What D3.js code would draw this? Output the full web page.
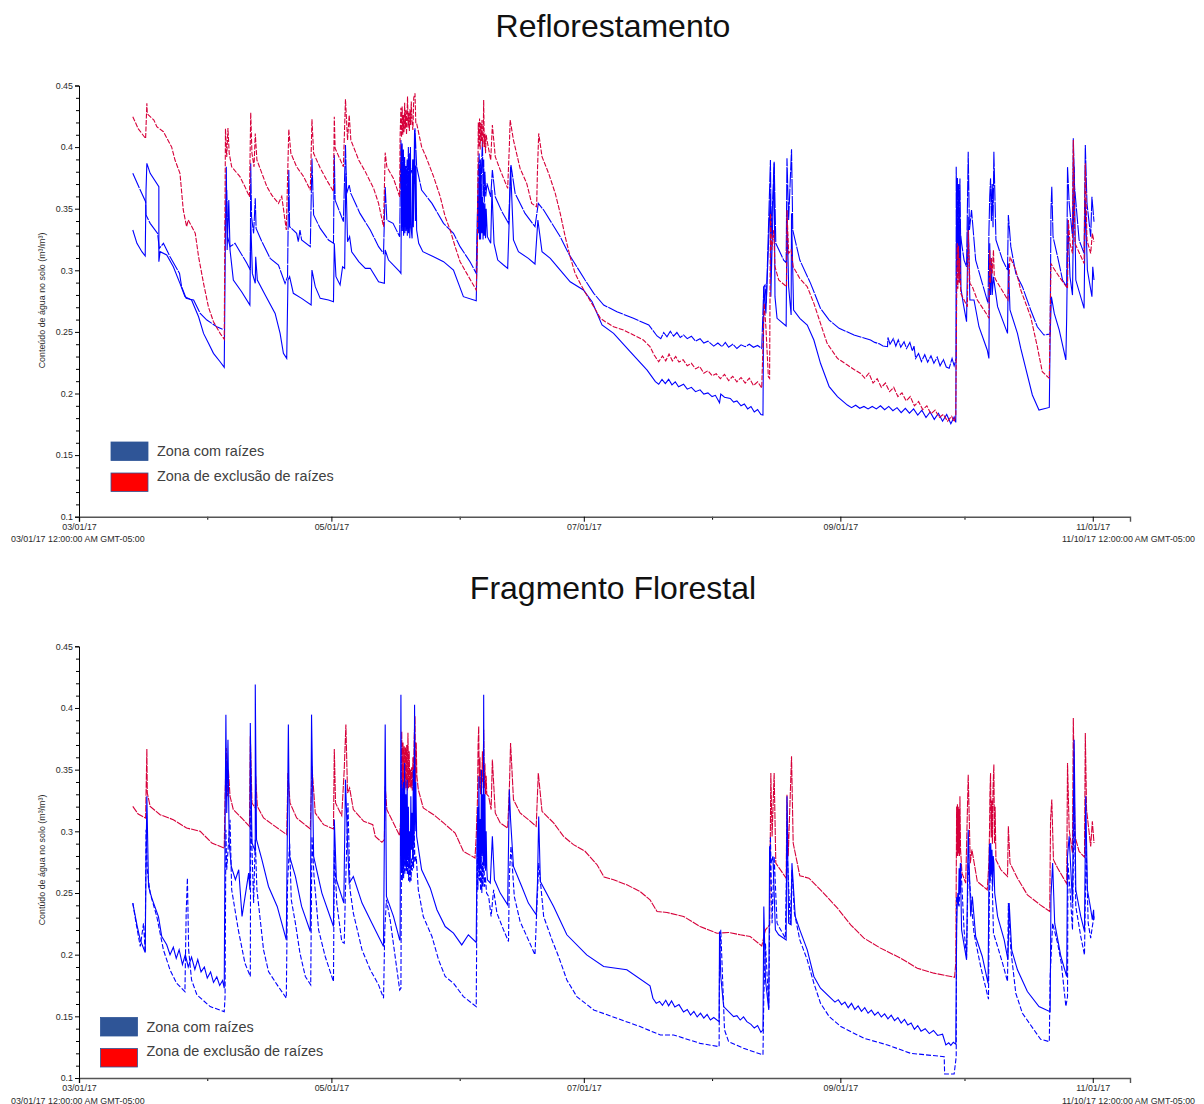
<!DOCTYPE html>
<html lang="pt"><head><meta charset="utf-8">
<style>html,body{margin:0;padding:0;background:#fff}svg{display:block}text{font-family:"Liberation Sans",Arial,sans-serif}</style>
<script src="https://cdn.jsdelivr.net/npm/d3@7/dist/d3.min.js"></script></head><body><div id="c"></div>
<script>
const chartTitles=["Reflorestamento","Fragmento Florestal"];
const legendLabels=["Zona com raízes","Zona de exclusão de raízes"];
const yTicks=[0.1,0.15,0.2,0.25,0.3,0.35,0.4,0.45];
const yMinorTicks=[0.11,0.12,0.13,0.14,0.16,0.17,0.18,0.19,0.21,0.22,0.23,0.24,0.26,0.27,0.28,0.29,0.31,0.32,0.33,0.34,0.36,0.37,0.38,0.39,0.41,0.42,0.43,0.44];
const xLabelDates=["2017-03-01","2017-05-01","2017-07-01","2017-09-01","2017-11-01"];
const xMinorDates=["2017-04-01","2017-06-01","2017-08-01","2017-10-01"];
const rangeStartLabel="03/01/17 12:00:00 AM GMT-05:00";
const rangeEndLabel="11/10/17 12:00:00 AM GMT-05:00";
const yTitles=["Conteúdo de água no solo (m³/m³)","Contúdo de água no solo (m³/m³)"];

// [days since 1 March 2017, volumetric water content]
const reflorRed=[[13,.4247],[14.3,.415],[16.1,.407],[16.4,.4355],[16.5,.427],[18.1,.422],[18.8,.4166],[20.4,.4125],[22.4,.4],[23.2,.3895],[24.4,.3787],[25.2,.349],[26,.3354],[26.4,.3408],[28.1,.33],[28.9,.311],[30.1,.2894],[31.3,.27],[32.5,.2583],[34.1,.2488],[35.1,.244],[35.4,.415],[35.7,.392],[36,.4155],[36.3,.395],[36.9,.384],[38.9,.376],[40.1,.3679],[41.2,.3597],[41.5,.428],[41.8,.395],[42.3,.384],[42.6,.411],[43,.3895],[44.2,.3787],[45.4,.368],[46.6,.361],[48.2,.3543],[49,.36],[50.1,.3327],[50.7,.4144],[51.2,.395],[52.6,.384],[54.3,.376],[55.9,.365],[56.3,.4225],[56.7,.395],[58.3,.383],[59.9,.373],[61.5,.364],[61.7,.4247],[61.9,.399],[63.9,.384],[64.4,.4388],[64.9,.4057],[65.3,.426],[65.7,.4057],[67.6,.3895],[69.2,.38],[71.2,.3665],[72.4,.3543],[73.6,.3354],[74,.3955],[74.4,.384],[76,.3746],[77.5,.3597],[77.6,.4084],[77.8,.432],[77.95,.408],[78.1,.433],[78.25,.41],[78.4,.426],[78.55,.412],[78.7,.436],[78.85,.415],[79,.43],[79.15,.41],[79.4,.441],[79.55,.416],[79.7,.428],[79.85,.413],[80,.431],[80.15,.418],[80.3,.437],[80.5,.42],[80.7,.4139],[80.9,.44],[81.2,.4436],[81.4,.419],[81.6,.4193],[82.8,.4003],[84,.3909],[85.7,.376],[87.3,.3597],[88.5,.3435],[89.7,.3327],[90.9,.3192],[92.1,.307],[93.7,.2975],[96,.284],[96.3,.3219],[96.5,.42],[96.65,.4],[96.8,.4233],[96.95,.398],[97.1,.42],[97.25,.405],[97.4,.422],[97.55,.4],[97.7,.41],[97.8,.4382],[97.95,.4],[98.1,.4111],[98.25,.395],[98.4,.41],[98.6,.4057],[99.5,.3895],[99.9,.4179],[100.6,.3922],[101.8,.3814],[103.6,.3665],[104,.4003],[104.2,.422],[105,.4057],[106.6,.3827],[108.2,.3706],[109.4,.3543],[110.6,.3516],[110.8,.3814],[111.1,.4111],[111.9,.3922],[113.5,.3787],[115.1,.3624],[116.3,.3462],[117.5,.3273],[118.7,.311],[119.9,.2975],[121.1,.2894],[122.7,.2799],[124.4,.2705],[126,.261],[127.2,.2583],[129.2,.2542],[131.6,.2515],[134,.2475],[136.4,.2434],[138,.238],[139,.2312],[140.1,.2258],[141,.2305],[141.8,.2265],[142.6,.232],[143.4,.2265],[144.2,.23],[145,.2255],[146,.2275],[147,.2225],[148,.2245],[149,.22],[150,.222],[151,.2165],[152,.2185],[153,.2145],[154,.216],[155,.212],[156,.2155],[157,.2105],[158,.214],[159,.2095],[160,.213],[161,.2085],[162,.2125],[163,.2065],[164,.2095],[165,.2045],[165.6,.2732],[166,.2542],[166.6,.2136],[166.9,.2123],[167.1,.3462],[167.4,.3165],[167.9,.3327],[168.2,.3029],[169.1,.2921],[171,.2867],[171.1,.3489],[171.5,.3137],[172.1,.3165],[172.6,.3029],[174.2,.2934],[176,.2867],[177.6,.2732],[179.2,.2569],[180.8,.2407],[183.3,.2285],[185.7,.2231],[187.3,.2195],[188.9,.2163],[189.9,.2125],[190.9,.2165],[191.9,.2085],[192.9,.212],[193.9,.205],[194.9,.2085],[195.9,.2015],[196.9,.205],[197.9,.1975],[198.9,.2005],[199.9,.194],[200.9,.1975],[201.9,.19],[202.9,.1935],[203.9,.187],[204.9,.19],[205.9,.1835],[206.9,.1865],[207.9,.1805],[208.9,.183],[209.9,.1775],[210.9,.1815],[211.5,.177],[211.9,.182],[212.1,.2732],[212.25,.322],[212.4,.285],[212.55,.32],[212.7,.29],[212.85,.31],[213.1,.2813],[214.7,.2705],[214.9,.3327],[215.3,.2894],[215.9,.2867],[217.1,.2759],[219.5,.2637],[219.9,.261],[220.1,.3165],[220.3,.29],[220.5,.31],[220.7,.2975],[221,.3165],[221.2,.295],[221.6,.2921],[224,.2786],[224.5,.2759],[225,.311],[226.4,.3002],[227.6,.284],[230,.2623],[231.6,.238],[232.8,.2177],[234.5,.2123],[234.9,.3056],[235.3,.3029],[236.9,.2948],[238.9,.2853],[239.1,.3408],[239.5,.3219],[240.1,.3137],[240.3,.4057],[240.7,.3219],[242.9,.3056],[243.2,.3868],[243.6,.3246],[244.5,.3137],[244.9,.33],[245.3,.3232]];

const reflorBlueUpper=[[13,.3787],[14.8,.3652],[16.1,.3557],[16.2,.3449],[17.2,.3381],[19,.33],[19.4,.3178],[20.4,.3219],[22,.311],[24.3,.2975],[24.8,.2867],[25.9,.2772],[27.7,.2759],[29.3,.265],[30.9,.2596],[33.3,.2542],[34.7,.2521],null,[35.3,.3327],[35.7,.3652],[35.9,.3273],[36.5,.3192],[37.7,.3219],[38.9,.3151],[40.5,.3062],[41.4,.3002],[41.5,.3868],[41.7,.3435],[42.2,.33],[42.6,.3584],[42.8,.334],[44.2,.3232],[46.2,.3097],[48.2,.3043],[49.8,.2894],[50.4,.2948],[50.7,.3814],[50.9,.3354],[52.6,.33],[53,.3232],[53.4,.3327],[53.8,.3246],[55.9,.3192],[56.3,.3908],[56.7,.3449],[58.3,.334],[60.3,.3246],[61.5,.3219],[61.7,.3936],[61.9,.357],[63.9,.3395],[64.4,.4017],[64.7,.3624],[65.3,.3692],[65.7,.3624],[67.9,.3462],[70.4,.3327],[72.4,.3192],[73.6,.3137],[74,.3679],[74.4,.3408],[75.9,.3381],[77.5,.3273],[77.8,.4057],[77.95,.37],[78.1,.403],[78.25,.36],[78.4,.398],[78.55,.355],[78.7,.392],[78.85,.365],[79,.385],[79.15,.37],[79.3,.39],[79.45,.36],[79.6,.4],[79.75,.37],[80,.3841],[80.5,.3787],[80.8,.39],[81,.37],[81.2,.4152],[81.6,.3841],[82.8,.3652],[85.3,.3543],[88.1,.3381],[90.5,.33],[92.1,.3192],[94.5,.307],[96,.2975],[96.3,.3489],[96.5,.38],[96.7,.3949],[96.85,.35],[97,.39],[97.15,.36],[97.3,.385],[97.5,.4057],[97.65,.36],[97.8,.39],[97.95,.355],[98.1,.38],[98.3,.36],[98.6,.3706],[99.5,.3597],[99.9,.3814],[100.6,.3597],[102.2,.3476],[103.8,.3381],[104.4,.3854],[105.4,.3624],[107.8,.3462],[110.2,.3354],[111,.3543],[112.3,.3489],[114.3,.3381],[116.3,.3273],[118.3,.3137],[120.3,.3029],[122.3,.2921],[124.4,.2813],[126.8,.2718],[130,.2664],[134,.261],[137.7,.2556],[139.7,.2467],[140.6,.2445],[141.3,.2495],[142.1,.246],[142.9,.2505],[143.7,.2465],[144.5,.2495],[145.3,.2455],[146.1,.2475],[147,.2445],[148,.2465],[149,.2425],[150.1,.2445],[151,.241],[152,.2425],[153.4,.2385],[154.4,.241],[155.4,.238],[156.2,.2415],[157,.2375],[158,.24],[159,.2365],[160,.2395],[161,.238],[162,.24],[163,.2375],[164,.239],[165,.2365],[165.5,.2867],[165.8,.288],[166.1,.2732],[167.1,.3895],[167.3,.3273],[168,.3881],[168.4,.3219],[170.3,.3083],[170.9,.3062],[171.1,.3909],[171.5,.3408],[172.2,.3982],[172.5,.3327],[174.2,.3083],[176.8,.2894],[179.2,.2691],[181.3,.2596],[183.7,.2529],[187.3,.2475],[191.3,.2434],[192.3,.2415],[193.3,.2405],[194.3,.2385],[195.4,.238],[195.5,.2455],[196,.24],[196.8,.2445],[197.4,.2385],[198,.2435],[198.6,.2375],[199.4,.242],[200,.2365],[200.8,.2415],[201.4,.2345],[201.8,.2385],[202.2,.2285],[202.9,.2325],[203.6,.226],[204.4,.2315],[205.1,.2255],[205.9,.2305],[206.6,.2245],[207.4,.2295],[208.1,.2225],[208.9,.2275],[209.6,.2215],[210.3,.2205],[211,.2285],[211.5,.2225],[212,.2285],[212,.3841],[212.15,.33],[212.3,.375],[212.45,.33],[212.6,.37],[212.75,.325],[212.9,.3746],[213.05,.33],[213.3,.3219],[213.9,.3083],[214.5,.3029],[214.9,.3963],[215.2,.3327],[215.7,.3489],[216.7,.3083],[218.3,.2894],[219.7,.2732],[219.9,.33],[220.1,.36],[220.3,.3746],[220.5,.34],[220.7,.37],[220.9,.335],[221.1,.3963],[221.6,.3246],[223.2,.3083],[224.4,.3002],[224.6,.3449],[225.2,.3192],[226.4,.2975],[228,.2867],[230,.2678],[231.6,.2542],[233.2,.2475],[234.7,.2483],[234.9,.3489],[235.1,.3679],[235.4,.3273],[236.5,.311],[237.7,.2921],[238.7,.2867],[238.9,.3841],[239.3,.3543],[240.1,.3273],[240.3,.4071],[240.6,.3679],[241.7,.3246],[242.9,.3137],[243.2,.4017],[243.6,.3543],[244.5,.3273],[244.8,.3597],[245.3,.3394]];

const reflorBlueLower=[[13,.3327],[14,.3219],[15.2,.3151],[16,.3116],[16.2,.3652],[16.4,.3868],[17.2,.3787],[19.3,.3679],[19.3,.307],[19.6,.3151],[21.2,.3124],[22.8,.3029],[24.4,.2894],[25.6,.2786],[27.2,.2759],[28.9,.2623],[30.1,.2488],[31.3,.2407],[32.5,.2326],[34.1,.2258],[35.1,.2212],[35.4,.3327],[35.6,.3841],[35.8,.3165],[36.2,.357],[36.5,.3165],[37.3,.2921],[39.3,.2826],[41.3,.2718],[41.5,.3408],[41.9,.2975],[42.6,.2894],[42.7,.311],[43.1,.2921],[45,.2799],[47.4,.265],[48.6,.2488],[49.4,.2326],[50.2,.2285],[50.5,.2921],[50.9,.2948],[51.8,.2813],[53.8,.2772],[56.1,.2718],[56.3,.3002],[57.1,.2867],[58.3,.2772],[60.3,.2759],[61.5,.2745],[61.7,.3219],[62.1,.2948],[63.1,.2881],[63.7,.3029],[64.2,.3016],[64.5,.3787],[64.9,.3232],[65.4,.3273],[65.9,.3151],[67.6,.307],[69.2,.3016],[70.4,.3016],[72.4,.2907],[73.8,.2894],[74,.3165],[74.8,.3083],[77.5,.2989],[77.8,.2975],[78,.398],[78.15,.332],[78.3,.385],[78.45,.328],[78.6,.39],[78.75,.33],[78.9,.375],[79.05,.332],[79.2,.37],[79.35,.328],[79.5,.38],[79.65,.33],[79.8,.395],[79.95,.326],[80.1,.4],[80.25,.335],[80.5,.3259],[80.65,.39],[80.8,.335],[81.1,.4139],[81.3,.34],[81.45,.385],[81.6,.3327],[82.1,.3219],[83.1,.3151],[85.7,.311],[88.1,.307],[90.5,.3002],[91.7,.2894],[92.9,.2786],[96,.2753],[96.2,.3083],[96.35,.36],[96.5,.33],[96.65,.375],[96.8,.325],[96.9,.3841],[97.05,.325],[97.2,.37],[97.35,.33],[97.5,.3597],[97.65,.325],[97.8,.355],[97.95,.328],[98.1,.3543],[98.25,.326],[98.4,.35],[98.7,.3273],[99.5,.3219],[99.8,.3652],[100.3,.3219],[101.2,.3083],[102.6,.3043],[103.6,.3016],[104,.3435],[104.3,.3841],[105,.3246],[106.2,.3151],[108.6,.3097],[110.2,.3051],[110.9,.3408],[111.9,.3151],[113.9,.3097],[116.3,.3002],[118.7,.2907],[121.9,.284],[124,.2745],[126.4,.2556],[129.2,.2488],[133.2,.2339],[137.3,.219],[139.3,.2096],[140.1,.2075],[140.9,.2115],[141.7,.208],[142.5,.2115],[143.3,.207],[144.1,.2095],[144.9,.2055],[146.1,.2075],[147,.2035],[148,.205],[149,.2015],[150.1,.203],[151,.1995],[152,.2005],[153,.1975],[153.8,.1985],[154.8,.1925],[155.1,.1995],[156,.197],[157.4,.196],[158.2,.193],[159,.194],[160,.19],[160.8,.1915],[161.6,.1875],[162.4,.1895],[163.2,.185],[164,.187],[164.8,.183],[165.3,.1825],[165.5,.2867],[166,.265],[167.1,.3624],[167.2,.2786],[168,.3868],[168.2,.2786],[168.7,.261],[170.9,.2548],[171.1,.3489],[171.5,.2867],[172.1,.2637],[172.2,.3462],[172.7,.2678],[174.2,.261],[176,.2556],[177.6,.2434],[179.2,.2245],[181.3,.2055],[183.3,.1974],[185.7,.1906],[186.7,.1885],[187.7,.1905],[188.7,.188],[189.7,.1895],[190.7,.1875],[191.7,.1895],[192.7,.1875],[193.7,.19],[194.7,.1868],[195.7,.1895],[196.7,.186],[197.7,.1885],[198.7,.1845],[199.7,.188],[200.7,.184],[201.7,.1875],[202.7,.1825],[203.7,.1865],[204.7,.1805],[205.7,.185],[206.7,.179],[207.7,.184],[208.7,.1775],[209.7,.183],[210.7,.1755],[211.5,.181],[211.9,.1765],[212.1,.3543],[212.25,.3],[212.4,.34],[212.55,.295],[212.7,.34],[212.85,.29],[213,.33],[213.15,.285],[213.7,.2732],[214.5,.2583],[214.9,.3435],[215.3,.2759],[216.3,.2759],[217.5,.2542],[219.5,.2353],[219.9,.2285],[220.1,.3219],[220.3,.28],[220.5,.31],[220.7,.28],[221,.2948],[222,.2705],[224.4,.2488],[224.6,.3056],[225,.2678],[226.8,.2488],[227.6,.2366],[228.8,.2204],[230.4,.1988],[232,.1866],[234.5,.1887],[234.7,.2461],[235,.2786],[235.7,.265],[236.9,.2515],[238.5,.2272],[238.7,.2623],[239,.3408],[239.5,.2948],[240.1,.2799],[240.5,.3841],[240.9,.2921],[242.9,.2691],[243.2,.357],[243.7,.3002],[244.8,.2786],[245,.3029],[245.3,.2921]];

const fragRed=[[13,.3202],[14.3,.314],[16.1,.3108],[16.4,.3668],[16.5,.3311],[17.2,.3202],[19.6,.3135],[22.8,.3094],[26,.3027],[29.3,.3],[32.1,.2905],[35.1,.2864],[35.3,.3284],[35.6,.3676],[35.9,.3284],[36.1,.35],[36.5,.3284],[37.3,.3176],[39.3,.3108],[41.2,.304],[41.4,.3771],[41.8,.323],[42.6,.3189],[42.7,.3446],[43.1,.3202],[44.6,.3108],[47.4,.304],[50.2,.2973],[50.5,.3473],[51,.323],[52.6,.3108],[55.9,.3019],[56.3,.3527],[57.1,.3149],[59.1,.3054],[61.5,.3019],[61.7,.3668],[62,.323],[63.5,.3127],[64.1,.35],[64.5,.3865],[64.9,.3311],[65.4,.3351],[66.3,.3176],[68.8,.3081],[71,.3054],[71.6,.2959],[73.2,.2911],[73.8,.2932],[74,.3365],[74.4,.3176],[77.5,.2965],[77.8,.3121],[78,.381],[78.15,.333],[78.3,.372],[78.45,.332],[78.6,.369],[78.75,.334],[78.9,.368],[79.05,.335],[79.2,.37],[79.35,.333],[79.5,.38],[79.65,.335],[79.8,.365],[79.95,.336],[80.1,.35],[80.25,.335],[80.4,.352],[80.55,.333],[80.7,.36],[80.85,.34],[81,.375],[81.2,.3932],[81.35,.34],[81.5,.372],[81.65,.345],[82,.3338],[83.2,.3189],[85.7,.3135],[88.1,.3068],[90.9,.2986],[92.9,.2838],[95.7,.2784],[96,.2959],[96.3,.3257],[96.45,.37],[96.6,.3851],[96.75,.335],[96.9,.36],[97.05,.33],[97.2,.35],[97.35,.335],[97.5,.365],[97.65,.34],[97.8,.3824],[97.95,.335],[98.1,.355],[98.25,.33],[98.4,.345],[98.55,.33],[99,.3284],[99.6,.3176],[99.9,.3581],[100.6,.3149],[101.8,.3068],[103.6,.3027],[104,.3338],[104.3,.3716],[105,.3257],[106.6,.3149],[108.6,.3095],[110.5,.304],[111,.3473],[111.9,.3162],[114.7,.3068],[117.1,.2959],[119.5,.2892],[122.3,.2838],[125.2,.2729],[126.9,.2629],[129.2,.2607],[132.4,.2566],[135.6,.2512],[138,.2445],[139.7,.235],[142.1,.2342],[146.1,.231],[150.1,.2228],[154.2,.2174],[157,.218],[159.8,.2161],[162.2,.2147],[165,.2071],[165.9,.2201],[166.9,.2242],[167.2,.3473],[167.5,.2959],[168,.3473],[168.4,.2742],[170.9,.262],[171.1,.3297],[171.4,.2797],[172.2,.3608],[172.6,.2905],[174.2,.264],[176.4,.262],[179.2,.2526],[183.3,.2377],[186.5,.2242],[189.7,.2134],[193.7,.2053],[198.6,.1971],[202.6,.189],[206.6,.185],[211.6,.1817],[211.9,.1931],[212.1,.3202],[212.2,.28],[212.3,.322],[212.4,.28],[212.5,.32],[212.6,.282],[212.7,.318],[212.8,.28],[212.9,.3284],[213.05,.285],[213.4,.2661],[214.3,.258],[214.9,.3459],[215.4,.2742],[215.8,.2851],[217.1,.2593],[219.5,.2526],[219.9,.2742],[220.05,.3],[220.15,.33],[220.3,.3473],[220.45,.295],[220.6,.325],[220.75,.29],[220.9,.335],[221.1,.3541],[221.25,.29],[221.4,.32],[221.6,.277],[222.8,.2688],[224.4,.2634],[224.6,.304],[225,.2742],[226.8,.262],[229.2,.2485],[232.3,.2404],[234.6,.235],[234.8,.3095],[235.1,.3257],[235.5,.277],[236.5,.2702],[238.7,.2575],[238.9,.3554],[239.3,.3013],[240.1,.2824],[240.3,.3919],[240.7,.2959],[241.7,.2837],[243,.2791],[243.2,.3797],[243.5,.3176],[244.5,.2878],[244.9,.3081],[245.3,.2905]];

const fragBlueSolid=[[13,.2418],[14,.2242],[14.8,.212],[16,.2017],[16.2,.2742],[16.4,.3284],[16.8,.2553],[17.6,.2458],[19.2,.2309],[20,.2147],[21.2,.208],[22,.2],[22.8,.206],[23.5,.197],[24.2,.204],[25,.192],[25.7,.2],[26.4,.19],[27.2,.198],[28,.188],[28.7,.196],[29.5,.186],[30.3,.19],[31,.181],[31.8,.186],[32.5,.1775],[33.3,.182],[34,.175],[34.7,.179],[35.1,.1728],[35.3,.3013],[35.5,.3946],[35.7,.3149],[36,.3743],[36.3,.2905],[36.8,.2715],[37.8,.2607],[38.6,.2688],[39.4,.231],[41,.2661],[41.3,.2526],[41.4,.3879],[41.8,.2905],[42.6,.2837],[42.6,.419],[42.9,.2932],[44.2,.277],[45.8,.2553],[47.9,.2391],[50.1,.212],[50.6,.3865],[50.9,.2797],[52.3,.2634],[53.8,.2391],[55.9,.2188],[56.2,.3946],[56.7,.2797],[58.7,.2499],[61.5,.2228],[61.7,.3095],[62.2,.2607],[64,.2418],[64.4,.3419],[64.9,.2905],[65.3,.258],[66.3,.2634],[68.4,.2418],[70.8,.2255],[73.6,.2066],[74,.3865],[74.3,.2472],[76,.231],[77.5,.212],[77.6,.212],[77.8,.4108],[77.95,.27],[78.1,.335],[78.25,.265],[78.4,.34],[78.55,.272],[78.7,.3554],[78.85,.275],[79,.33],[79.15,.268],[79.3,.3419],[79.45,.28],[79.6,.32],[79.75,.27],[79.9,.3],[80.05,.268],[80.2,.3284],[80.35,.285],[80.5,.315],[80.65,.278],[80.8,.35],[80.95,.29],[81.1,.4027],[81.25,.3],[81.4,.34],[81.6,.2959],[82.8,.2688],[84.9,.2539],[86.5,.2364],[88.5,.2228],[90.5,.2174],[92.5,.2079],[94.1,.2161],[96,.2099],[96.2,.2905],[96.35,.32],[96.5,.27],[96.65,.3446],[96.8,.268],[96.95,.31],[97.1,.27],[97.25,.35],[97.4,.28],[97.55,.33],[97.7,.275],[97.8,.4108],[97.95,.272],[98.1,.33],[98.25,.268],[98.4,.3],[98.55,.27],[98.7,.2607],[99.4,.258],[99.9,.2959],[100.4,.2607],[101.8,.2499],[103.6,.2404],[104,.3338],[104.3,.3094],[105,.2715],[107,.2553],[108.6,.2418],[110.5,.2323],[110.8,.258],[111.1,.3121],[111.5,.2593],[114.7,.2391],[117.9,.2161],[122.7,.1998],[126.8,.1904],[132.4,.1877],[138,.1747],[138.7,.1647],[139.5,.1605],[140.3,.162],[141,.159],[141.8,.163],[142.5,.1585],[143.2,.1625],[144,.1575],[145,.1595],[146.1,.1535],[147,.1555],[147.8,.151],[148.6,.154],[149.4,.1495],[150.2,.1525],[151,.1485],[151.8,.1515],[152.6,.147],[153.4,.149],[154.7,.1457],[154.8,.2188],[155.1,.1823],[155.8,.1579],[158.2,.1498],[159,.1505],[159.8,.147],[160.6,.1495],[161.4,.1457],[162.4,.1435],[163.2,.1405],[164,.1425],[164.8,.137],[165.3,.139],[165.5,.2391],[165.9,.1795],[166.7,.1552],[166.9,.2878],[167.2,.2742],[167.7,.2797],[168.3,.2201],[169.1,.2161],[170.9,.212],[171.1,.3284],[171.5,.2255],[172.1,.2242],[172.3,.2742],[173.1,.231],[174.2,.2201],[176,.2039],[177.6,.1823],[179.2,.1728],[181.7,.1647],[182.7,.1615],[183.5,.1635],[184.3,.1595],[185.1,.1615],[185.9,.157],[186.7,.1605],[187.5,.1555],[188.3,.1585],[189.1,.154],[189.9,.157],[190.7,.1525],[191.5,.155],[192.3,.151],[193.1,.1535],[193.9,.1495],[194.7,.152],[195.5,.148],[196.3,.151],[197.1,.1465],[197.9,.149],[198.7,.1445],[199.5,.1475],[200.3,.143],[201.1,.1445],[201.9,.1395],[202.7,.1425],[203.5,.138],[204.5,.14],[205.5,.136],[206.5,.1385],[207.5,.1345],[208.7,.1355],[209.5,.1268],[210.2,.1285],[210.7,.1265],[211.3,.129],[211.9,.1275],[212.1,.2201],[212.25,.2418],[212.4,.25],[212.55,.24],[212.7,.27],[212.85,.25],[213,.2742],[213.3,.2201],[214.5,.1958],[214.9,.3013],[215.5,.231],[215.9,.2472],[216.7,.2147],[218.3,.1985],[219.7,.1768],[219.9,.258],[220.05,.29],[220.2,.26],[220.35,.2905],[220.5,.265],[220.65,.285],[220.8,.255],[220.95,.28],[221.1,.2742],[221.3,.25],[222,.231],[223.6,.212],[224.5,.1958],[224.8,.2418],[225.4,.2039],[226.8,.1877],[229.2,.1701],[232,.1579],[234.7,.1538],[234.9,.2472],[235.3,.2742],[235.8,.2255],[237.3,.1985],[238.7,.1823],[238.9,.2797],[239.3,.2959],[240.1,.2418],[240.5,.3743],[240.9,.2526],[242.1,.231],[243,.2188],[243.3,.3284],[243.7,.2526],[244.4,.2391],[244.9,.2283],[245.2,.2364],[245.3,.2283]];

const fragBlueDashed=[[13,.2418],[13.8,.2255],[14.8,.2066],[15.6,.2255],[16,.2017],[16.2,.3013],[16.5,.2688],[17.2,.2499],[18.8,.2309],[20.4,.2039],[22,.1877],[23.6,.1768],[25.6,.17],[25.9,.2337],[26.2,.2621],[26.5,.2039],[27.2,.1795],[28.5,.1674],[31.7,.1579],[35.1,.1538],[35.3,.166],[35.5,.3013],[35.7,.2688],[36.5,.3094],[36.9,.2526],[38.5,.2201],[40.1,.1931],[41.4,.1823],[41.5,.3203],[42.2,.2418],[42.6,.2932],[43,.2526],[44.6,.2039],[45.8,.1863],[47.9,.1755],[50.1,.1647],[50.4,.258],[50.9,.2905],[51.3,.2445],[52.3,.2255],[53.4,.2012],[54.7,.1823],[56,.1755],[56.3,.2959],[56.8,.2634],[57.9,.2201],[59.5,.1985],[61.5,.1782],[61.7,.2851],[62.3,.2418],[63.5,.2106],[64.1,.2093],[64.4,.2526],[65,.323],[65.5,.2526],[66.3,.2337],[68.4,.2039],[70.4,.1877],[72.4,.1755],[73.6,.1647],[73.9,.2201],[74.3,.2445],[75.2,.2282],[77.5,.1714],[77.8,.1728],[78,.3419],[78.15,.26],[78.3,.31],[78.45,.262],[78.6,.3],[78.75,.265],[78.9,.305],[79.05,.268],[79.2,.31],[79.35,.265],[79.5,.29],[79.65,.26],[79.8,.28],[79.95,.258],[80.1,.272],[80.25,.26],[80.4,.278],[80.55,.268],[80.7,.305],[80.85,.27],[81,.3],[81.2,.275],[81.5,.2797],[82,.2526],[83.2,.2309],[85.3,.2147],[86.9,.1958],[88.5,.1823],[90.5,.1768],[92.9,.166],[96,.1579],[96.1,.2066],[96.25,.29],[96.4,.2526],[96.6,.29],[96.75,.26],[96.9,.2742],[97.05,.252],[97.2,.28],[97.35,.25],[97.5,.275],[97.65,.255],[97.8,.29],[98,.255],[98.2,.2634],[98.5,.25],[99,.2472],[99.6,.2309],[100.2,.2526],[101,.2337],[102.6,.2201],[103.8,.2107],[104,.2634],[104.4,.2878],[105.2,.2472],[106.6,.2269],[108.6,.212],[110.2,.1998],[110.6,.2337],[111.1,.2742],[112.3,.2309],[114.3,.212],[115.9,.1985],[117.9,.1795],[120.3,.166],[124.4,.1552],[130,.1484],[135.6,.1417],[140.5,.1349],[143.7,.1349],[150.1,.1281],[154.7,.1254],[154.8,.1931],[155.1,.2201],[156,.139],[157,.1295],[160.6,.1241],[165.3,.1187],[165.5,.166],[165.9,.2093],[166.7,.1565],[167.1,.2959],[167.5,.2255],[168,.2797],[168.7,.2255],[170.7,.2134],[171.1,.2878],[171.9,.2242],[172.3,.2688],[172.9,.2337],[174.2,.212],[176,.1958],[177.6,.1768],[179.2,.1606],[181.3,.1498],[184.1,.1417],[189.7,.1322],[195.4,.1268],[201,.12],[209.1,.1173],[209.2,.1032],[211.5,.1032],[212,.1173],[212.1,.2472],[212.7,.2391],[213.1,.2742],[213.9,.2201],[214.5,.1971],[214.9,.2742],[215.5,.2472],[216.3,.2174],[217.9,.1904],[219.8,.1639],[220,.2472],[220.5,.2851],[221,.2174],[222,.2066],[223.2,.1931],[224.4,.1782],[224.6,.2418],[225.2,.2039],[226.4,.1687],[228,.1525],[230.8,.139],[232.4,.1314],[234.5,.1295],[234.7,.1823],[235.3,.2255],[236.5,.2093],[237.4,.1931],[238.5,.1579],[238.9,.166],[239,.2742],[239.5,.2526],[240.1,.2201],[240.5,.3284],[240.9,.2391],[242.1,.2147],[243,.1998],[243.4,.2878],[243.9,.2255],[244.5,.2134],[244.9,.2228],[245.3,.231]];

const W=1204,H=1104;
const svg=d3.select("#c").append("svg").attr("width",W).attr("height",H);
const t0=Date.UTC(2017,2,1);
const toDate=d=>new Date(t0+d*864e5);
const x=d3.scaleUtc().domain([new Date("2017-03-01"),new Date("2017-11-10")]).range([79,1130]);
const BLUE="#0000ff",RED="#d6003a",INK="#2a2a2a",FS=8.9;

const panels=[
 {title:chartTitles[0],yTitle:yTitles[0],titleY:37,y0:516.7,y1:85.5,legendX:111,legendY:[442,473],ytc:300.5,
  series:[{d:reflorBlueLower,c:BLUE,dash:null},{d:reflorBlueUpper,c:BLUE,dash:"16 1"},{d:reflorRed,c:RED,dash:"5 1.5"}]},
 {title:chartTitles[1],yTitle:yTitles[1],titleY:599,y0:1078,y1:646.3,legendX:100.5,legendY:[1017.5,1048.5],ytc:860,
  series:[{d:fragRed,c:RED,dash:"7 1"},{d:fragBlueDashed,c:BLUE,dash:"5 2"},{d:fragBlueSolid,c:BLUE,dash:null}]}
];

panels.forEach(p=>{
 const y=d3.scaleLinear().domain([0.1,0.45]).range([p.y0,p.y1]);
 svg.append("text").attr("x",613).attr("y",p.titleY).attr("text-anchor","middle").attr("font-size",32).attr("fill","#111").text(p.title);
 const line=d3.line().defined(d=>d!==null).x(d=>x(toDate(d[0]))).y(d=>y(d[1]));
 p.series.forEach(s=>{
  svg.append("path").datum(s.d).attr("d",line).attr("fill","none").attr("stroke",s.c).attr("stroke-width",1.1)
   .attr("stroke-dasharray",s.dash).attr("stroke-linejoin","miter");
 });
 const gy=svg.append("g").attr("transform","translate(79,0)").call(d3.axisLeft(y).tickValues(yMinorTicks).tickSize(3).tickFormat(""));
 const gy2=svg.append("g").attr("transform","translate(79,0)").call(d3.axisLeft(y).tickValues(yTicks).tickSize(4).tickPadding(2).tickFormat(d=>String(+d.toFixed(2))));
 gy.select(".domain").remove();
 gy2.select(".domain").attr("stroke","#000");
 gy2.selectAll("text").attr("font-family","DejaVu Sans").attr("font-size",FS).attr("fill",INK);
 const gx=svg.append("g").attr("transform",`translate(0,${p.y0})`).call(d3.axisBottom(x).tickValues(xMinorDates.map(s=>new Date(s))).tickSize(3).tickFormat(""));
 gx.select(".domain").remove();
 const gx2=svg.append("g").attr("transform",`translate(0,${p.y0})`).call(d3.axisBottom(x).tickValues(xLabelDates.map(s=>new Date(s))).tickSize(5).tickPadding(2).tickFormat(d3.utcFormat("%m/%d/%y")));
 gx2.select(".domain").attr("stroke","#555").attr("stroke-width",1.4);
 gx2.selectAll("text").attr("font-family","DejaVu Sans").attr("font-size",FS).attr("fill",INK);
 [[11,rangeStartLabel],[1062,rangeEndLabel]].forEach(([lx,s])=>{
  svg.append("text").attr("x",lx).attr("y",p.y0+25.5).attr("font-family","DejaVu Sans").attr("font-size",FS).attr("fill",INK).text(s);
 });
 svg.append("text").attr("transform",`translate(45,${p.ytc}) rotate(-90)`).attr("text-anchor","middle")
  .attr("font-family","DejaVu Sans").attr("font-size",FS).attr("fill",INK).text(p.yTitle);
 legendLabels.forEach((lab,i)=>{
  svg.append("rect").attr("x",p.legendX).attr("y",p.legendY[i]).attr("width",37).attr("height",18.5)
   .attr("fill",i?"#ff0000":"#2f5597").attr("stroke","#2f5597").attr("stroke-width",0.8);
  svg.append("text").attr("x",p.legendX+46).attr("y",p.legendY[i]+(i?7.8:14)).attr("font-size",14.4).attr("fill","#404040").text(lab);
 });
});
</script></body></html>
